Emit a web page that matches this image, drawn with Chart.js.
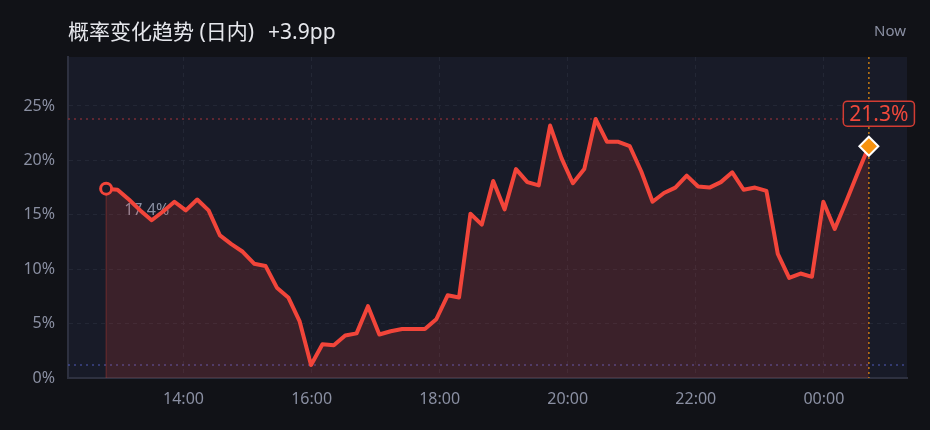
<!DOCTYPE html>
<html><head><meta charset="utf-8">
<script src="https://cdn.jsdelivr.net/npm/chart.js@4.4.0/dist/chart.umd.min.js"></script>
<style>
html,body{margin:0;padding:0;background:#111217;}
#wrap{position:relative;width:930px;height:430px;overflow:hidden;background:#111217;}
canvas{position:absolute;left:0;top:0;}
#title{position:absolute;left:68px;top:18px;font:21px/27px "Noto Sans","Noto Sans CJK SC",sans-serif;color:#e6e7ec;white-space:pre;}
#delta{margin-left:14px;}
#now{position:absolute;right:24px;top:20px;font:15px/20px "Noto Sans",sans-serif;color:#8a8fa2;}
</style></head>
<body><div id="wrap"><canvas id="c" width="930" height="430"></canvas><div id="title">概率变化趋势 (日内)<span id="delta">+3.9pp</span></div><div id="now">Now</div></div>
<script>
// ---- data ----
const times = ['12:47:30','12:58:10','13:08:50','13:19:30','13:30:10','13:40:50','13:51:30','14:02:10','14:12:50','14:23:30',
 '14:34:10','14:44:50','14:55:30','15:06:10','15:16:50','15:27:30','15:38:10','15:48:50','15:59:30','16:10:10',
 '16:20:50','16:31:30','16:42:10','16:52:50','17:03:30','17:14:10','17:24:50','17:35:30','17:46:10','17:56:50',
 '18:07:30','18:18:10','18:28:50','18:39:30','18:50:10','19:00:50','19:11:30','19:22:10','19:32:50','19:43:30',
 '19:54:10','20:04:50','20:15:30','20:26:10','20:36:50','20:47:30','20:58:10','21:08:50','21:19:30','21:30:10',
 '21:40:50','21:51:30','22:02:10','22:12:50','22:23:30','22:34:10','22:44:50','22:55:30','23:06:10','23:16:50',
 '23:27:30','23:38:10','23:48:50','23:59:30','00:10:10','00:20:50','00:31:30','00:42:10'];
const probs = [17.4,17.3,16.4,15.4,14.5,15.3,16.2,15.4,16.4,15.4,
 13.1,12.3,11.6,10.5,10.3,8.3,7.4,5.2,1.2,3.1,
 3.0,3.9,4.1,6.6,4.0,4.3,4.5,4.5,4.5,5.4,
 7.6,7.4,15.1,14.1,18.1,15.5,19.2,18.0,17.7,23.2,
 20.2,17.9,19.2,23.8,21.7,21.7,21.3,19.0,16.2,17.0,
 17.5,18.6,17.6,17.5,18.0,18.9,17.3,17.5,17.2,11.4,
 9.2,9.6,9.3,16.2,13.7,16.2,18.8,21.3];
const xTickLabels = ['14:00','16:00','18:00','20:00','22:00','00:00'];
const yTickValues = [0,5,10,15,20,25];
const yMax = 29.5;

// ---- helpers ----
function toMin(t){
  const p = t.split(':').map(Number);
  let m = p[0]*60 + p[1] + (p[2]||0)/60;
  if (p[0] < 12) m += 1440;
  return m;
}
function fmt(v){
  const m = Math.round(v) % 1440;
  const h = Math.floor(m/60), mm = m%60;
  return String(h).padStart(2,'0') + ':' + String(mm).padStart(2,'0');
}
const xs = times.map(toMin);
const span = xs[xs.length-1] - xs[0];
const xMin = xs[0] - span*0.05, xMax = xs[xs.length-1] + span*0.05;
const points = xs.map((x,i)=>({x:x, y:probs[i]}));
const first = probs[0], last = probs[probs.length-1];
document.getElementById('delta').textContent = (last-first>=0?'+':'') + (last-first).toFixed(1) + 'pp';

const LINE = '#f2453a';
const PLOT_BG = '#181b28';

const deco = {
  id:'deco',
  beforeDraw(chart){
    const {ctx, chartArea:a} = chart;
    ctx.save();
    ctx.fillStyle = '#111217';
    ctx.fillRect(0,0,chart.width,chart.height);
    ctx.fillStyle = PLOT_BG;
    ctx.fillRect(a.left, a.top, a.right-a.left, a.bottom-a.top);
    ctx.restore();
  },
  beforeDatasetsDraw(chart){
    const {ctx, chartArea:a, scales:{x, y}} = chart;
    ctx.save();
    const yMinPx = y.getPixelForValue(Math.min(...probs));
    const yMaxPx = y.getPixelForValue(Math.max(...probs));
    ctx.lineWidth = 1.5;
    ctx.setLineDash([2,4]);
    ctx.strokeStyle = 'rgba(80,92,190,0.65)';
    ctx.beginPath(); ctx.moveTo(a.left, yMinPx); ctx.lineTo(a.right, yMinPx); ctx.stroke();
    ctx.strokeStyle = 'rgba(160,52,58,0.7)';
    ctx.beginPath(); ctx.moveTo(a.left, yMaxPx); ctx.lineTo(a.right, yMaxPx); ctx.stroke();
    const xn = x.getPixelForValue(xs[xs.length-1]);
    ctx.strokeStyle = '#c47a12';
    ctx.setLineDash([2,3]);
    ctx.beginPath(); ctx.moveTo(xn, a.top); ctx.lineTo(xn, a.bottom); ctx.stroke();
    const x0 = x.getPixelForValue(xs[0]), y0 = y.getPixelForValue(first);
    ctx.setLineDash([]);
    ctx.lineWidth = 1;
    ctx.strokeStyle = 'rgba(240,70,58,0.35)';
    ctx.beginPath(); ctx.moveTo(x0, y0); ctx.lineTo(x0, a.bottom); ctx.stroke();
    ctx.fillStyle = '#8a8fa2';
    ctx.font = '16px "Noto Sans", sans-serif';
    ctx.textAlign = 'left'; ctx.textBaseline = 'middle';
    ctx.fillText(first.toFixed(1)+'%', x0+18, y0+22);
    ctx.restore();
  },
  afterDatasetsDraw(chart){
    const {ctx, scales:{x, y}} = chart;
    ctx.save();
    const x0 = x.getPixelForValue(xs[0]), y0 = y.getPixelForValue(first);
    ctx.beginPath(); ctx.arc(x0, y0, 5.5, 0, Math.PI*2);
    ctx.fillStyle = PLOT_BG; ctx.fill();
    ctx.lineWidth = 3; ctx.strokeStyle = LINE; ctx.stroke();
    const x1 = x.getPixelForValue(xs[xs.length-1]), y1 = y.getPixelForValue(last);
    const d = 9.5;
    ctx.beginPath();
    ctx.moveTo(x1, y1-d); ctx.lineTo(x1+d, y1); ctx.lineTo(x1, y1+d); ctx.lineTo(x1-d, y1); ctx.closePath();
    ctx.fillStyle = '#f7930f'; ctx.fill();
    ctx.lineWidth = 2; ctx.strokeStyle = '#ffffff'; ctx.stroke();
    const txt = last.toFixed(1)+'%';
    ctx.font = '21px "Noto Sans", sans-serif';
    const w = ctx.measureText(txt).width + 12, h = 25;
    const cx = x1 + 10, bottom = y1 - 20;
    const bx = cx - w/2, by = bottom - h;
    ctx.beginPath();
    ctx.roundRect(bx, by, w, h, 4);
    ctx.fillStyle = 'rgba(24,27,40,0.92)'; ctx.fill();
    ctx.lineWidth = 1.5; ctx.strokeStyle = '#d23c33'; ctx.stroke();
    ctx.fillStyle = '#f0483b';
    ctx.textAlign = 'center'; ctx.textBaseline = 'middle';
    ctx.fillText(txt, cx, by + h/2 + 1);
    ctx.restore();
  }
};

new Chart(document.getElementById('c'), {
  type:'line',
  data:{ datasets:[{
    data: points,
    borderColor: LINE,
    borderWidth: 4,
    borderJoinStyle: 'round',
    borderCapStyle: 'round',
    tension: 0,
    pointRadius: 0,
    pointHoverRadius: 0,
    fill: 'origin',
    backgroundColor: 'rgba(240,70,58,0.16)'
  }]},
  options:{
    responsive:false,
    animation:false,
    events:[],
    layout:{ padding:{ top:57, right:23, left:0, bottom:0 } },
    plugins:{ legend:{display:false}, tooltip:{enabled:false}, title:{display:false} },
    scales:{
      x:{
        type:'linear', min:xMin, max:xMax,
        afterBuildTicks(s){ s.ticks = xTickLabels.map(t=>({value: toMin(t)})); },
        afterFit(s){ s.height = 52; },
        ticks:{ color:'#8a8fa2', font:{size:16, family:'"Noto Sans", sans-serif'}, padding:12, maxRotation:0, autoSkip:false, callback:(v)=>fmt(v) },
        grid:{ color:'#232735', drawTicks:false, lineWidth:1 },
        border:{ display:true, color:'#2e3140', width:2, dash:[4,4] }
      },
      y:{
        min:0, max:yMax,
        afterBuildTicks(s){ s.ticks = yTickValues.map(v=>({value:v})); },
        afterFit(s){ s.width = 68; },
        ticks:{ color:'#8a8fa2', font:{size:16, family:'"Noto Sans", sans-serif'}, padding:13, callback:(v)=>v+'%' },
        grid:{ color:'#232735', drawTicks:false, lineWidth:1 },
        border:{ display:true, color:'#2e3140', width:2, dash:[4,4] }
      }
    }
  },
  plugins:[deco]
});
</script>
</body></html>
